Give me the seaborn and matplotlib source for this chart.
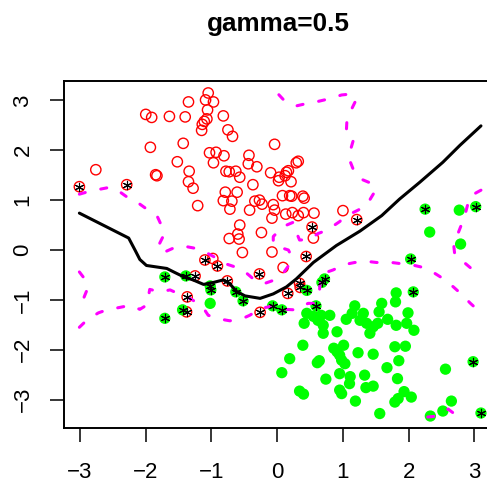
import matplotlib
matplotlib.use("Agg")
import matplotlib.pyplot as plt
import numpy as np
import pandas as pd
import seaborn as sns

# class 1 (red, open circles): ordinary observations
red_x = [-1.05, -1.09, -0.97, -1.35, -1.06, -2.00, -1.91, -1.64, -1.40, -0.82,
         -1.07, -1.11, -1.14, -1.15, -0.75, -0.68,
         -1.93, -1.43, -0.04, -2.76,
         -1.03, -0.93, -0.81, -0.97, -1.52, -0.43, -0.44, -0.31, 0.29, 0.32,
         -1.85, -1.83, -1.34, -0.78, -0.73, -0.63, -0.57, -0.10, 0.03, 0.02, 0.14, 0.17, 0.12, 0.21,
         -1.35, -1.28, -0.37, -0.79, -0.61,
         0.08, 0.19, 0.22, 0.39, 0.41,
         -0.82, -0.69, -0.34, -0.27, -0.23, -0.06, -1.21,
         -0.72, -0.42, -0.04, -0.08,
         0.13, 0.23, 0.32, 0.40, 0.56, 1.00,
         -0.57, -0.24, -0.73, -0.60, -0.58,
         -0.53, -0.08, 0.09, 0.55, -0.98]
red_y = [3.15, 3.01, 2.97, 2.97, 2.81, 2.72, 2.66, 2.68, 2.67, 2.69,
         2.63, 2.58, 2.52, 2.40, 2.41, 2.28,
         2.06, 2.14, 2.12, 1.61,
         1.95, 1.96, 1.89, 1.75, 1.77, 1.90, 1.73, 1.67, 1.75, 1.78,
         1.51, 1.49, 1.58, 1.58, 1.57, 1.58, 1.46, 1.55, 1.46, 1.39, 1.56, 1.59, 1.49, 1.37,
         1.37, 1.24, 1.31, 1.16, 1.16,
         1.09, 1.09, 1.08, 1.08, 1.04,
         0.99, 0.98, 0.98, 1.00, 0.92, 0.91, 0.89,
         0.82, 0.80, 0.80, 0.64,
         0.72, 0.75, 0.69, 0.75, 0.74, 0.79,
         0.50, 0.35, 0.23, 0.32, 0.22,
         -0.05, -0.04, -0.35, 0.24, -0.17]

# class 1 support vectors
red_sv_x = [-3.01, -2.29, -1.10, -0.91, -1.25, -0.76, -0.27, 0.53, 0.44, 1.21,
            -1.37, -1.38, -0.26, 0.16, 0.34, 0.35]
red_sv_y = [1.27, 1.31, -0.20, -0.32, -0.52, -0.62, -0.48, 0.46, -0.13, 0.61,
            -0.94, -1.24, -1.25, -0.87, -0.67, -0.75]

# class 2 (green, filled dots): ordinary observations
green_x = [-1.02, 2.77, 2.32, 2.79,
           1.81, 1.80, 1.59, 1.18, 1.99,
           0.45, 0.41, 0.55, 0.67, 0.80, 0.62, 0.70, 0.70, 0.91,
           1.05, 1.14, 1.31, 1.26, 1.36, 1.41, 1.46, 1.53, 1.55, 1.68, 1.81, 1.97, 2.08,
           0.39, 0.19, 0.07, 0.34, 0.40, 0.61, 0.64, 0.74,
           0.86, 0.91, 1.01, 0.95, 0.98, 1.03, 0.95, 1.11, 1.10, 0.95, 0.98,
           1.23, 1.46, 1.19, 1.35, 1.46, 1.33, 1.56, 1.67,
           1.79, 1.95, 1.85, 1.83, 1.79, 1.84, 1.93, 2.04,
           2.56, 2.65, 2.52, 2.33]
green_y = [-1.07, 0.80, 0.36, 0.12,
           -0.86, -1.04, -1.07, -1.12, -1.26,
           -1.27, -1.47, -1.33, -1.31, -1.31, -1.41, -1.51, -1.67, -1.64,
           -1.39, -1.27, -1.27, -1.41, -1.47, -1.67, -1.54, -1.47, -1.24, -1.39, -1.51, -1.47, -1.61,
           -1.91, -2.18, -2.46, -2.83, -2.89, -2.26, -2.22, -2.59,
           -1.97, -2.04, -1.91, -2.11, -2.21, -2.28, -2.48, -2.54, -2.68, -2.81, -2.88,
           -2.06, -2.09, -3.03, -2.76, -2.73, -2.51, -3.28, -2.36,
           -1.94, -1.93, -2.22, -2.58, -3.05, -2.98, -2.84, -2.95,
           -2.39, -3.03, -3.23, -3.33]

# class 2 support vectors
green_sv_x = [-1.71, -1.39, -1.02, -1.01, -0.63, -0.52, -1.44, -1.71, -0.07, 0.07,
              0.45, 0.59, 0.68, 0.72, 2.25, 3.02, 2.03, 2.07, 2.98, 3.10]
green_sv_y = [-0.54, -0.52, -0.72, -0.80, -0.84, -1.02, -1.20, -1.37, -1.12, -1.20,
              -0.81, -1.12, -0.65, -0.58, 0.82, 0.87, -0.18, -0.84, -2.24, -3.27]

# decision boundary (f = 0)
boundary_x = [-3.01, -2.26, -2.16, -2.09, -1.99, -1.68, -1.56, -1.42, -1.28, -1.12,
              -0.97, -0.82, -0.72, -0.62, -0.49, -0.26, -0.06, 0.14, 0.29, 0.55,
              0.90, 1.26, 1.59, 1.86, 2.17, 2.52, 2.78, 3.10]
boundary_y = [0.74, 0.24, -0.01, -0.19, -0.31, -0.37, -0.45, -0.54, -0.60, -0.69,
              -0.65, -0.60, -0.68, -0.83, -0.92, -0.97, -0.88, -0.74, -0.58, -0.25,
              0.09, 0.38, 0.69, 1.02, 1.36, 1.76, 2.10, 2.49]

# margin f = +1 (class 1 side)
upper_x = [-3.01, -2.85, -2.54, -2.42, -2.24, -2.09, -1.91, -1.82, -1.73, -1.73, -1.79,
           -1.81, -1.73, -1.56, -1.43, -1.23, -1.11, -0.97, -0.80, -0.57, -0.47,
           -0.31, -0.19, -0.04, 0.10, 0.18, 0.22, 0.17, 0.05, -0.06, -0.06, 0.09,
           0.25, 0.28, 0.34, 0.49, 0.62, 0.76, 0.95,
           1.03, 1.23, 1.36, 1.47, 1.48, 1.28, 1.18, 1.10, 1.10, 1.16, 1.05,
           1.06, 1.10, 1.20, 1.13, 0.98, 0.78, 0.62, 0.42, 0.29, 0.12, 0.00]
upper_y = [1.12, 1.18, 1.26, 1.19, 1.02, 0.92, 0.75, 0.66, 0.40, 0.29, 0.13,
           0.02, -0.05, 0.05, 0.08, 0.03, -0.03, -0.13, -0.27, -0.37, -0.46,
           -0.64, -0.67, -0.60, -0.45, -0.30, -0.13, 0.00, 0.05, 0.13, 0.27, 0.47,
           0.56, 0.39, 0.20, 0.21, 0.33, 0.40, 0.57,
           0.67, 0.80, 0.90, 1.14, 1.31, 1.42, 1.54, 1.81, 1.94, 2.21, 2.34,
           2.58, 2.74, 3.01, 3.13, 3.11, 3.03, 2.98, 2.93, 2.89, 2.98, 3.15]

# margin f = -1 (class 2 side)
lower_left_x = [-3.01, -2.90, -2.90, -2.94, -2.99, -3.01]
lower_left_y = [-0.44, -0.63, -0.82, -0.95, -1.14, -1.20]

lower_x = [-3.01, -2.90, -2.72, -2.59, -2.39, -2.24, -2.09, -1.98, -1.96, -1.94,
           -1.78, -1.63, -1.40, -1.33, -1.23, -1.12, -1.05, -0.85, -0.72, -0.52,
           -0.42, -0.24, -0.06, 0.12, 0.27, 0.47, 0.55, 0.64, 0.65, 0.70, 0.85,
           1.03, 1.18, 1.38, 1.51, 1.74, 1.86, 2.09, 2.22, 2.40, 2.52, 2.68,
           2.79, 2.94, 3.04, 3.10]
lower_y = [-1.55, -1.41, -1.26, -1.20, -1.15, -1.11, -1.19, -1.10, -0.94, -0.79,
           -0.84, -0.80, -0.94, -0.97, -1.05, -1.17, -1.31, -1.39, -1.42, -1.37,
           -1.31, -1.17, -1.12, -1.19, -1.20, -1.07, -1.07, -0.87, -0.70, -0.47, -0.40,
           -0.29, -0.25, -0.23, -0.25, -0.25, -0.27, -0.31, -0.35, -0.47, -0.57, -0.74,
           -0.87, -1.07, -1.19, -1.27]

right_x = [3.10, 3.03, 2.93, 2.87, 2.83, 2.75, 2.68, 2.70, 2.80, 2.97, 3.10]
right_y = [1.20, 1.15, 1.07, 0.77, 0.60, 0.33, 0.17, -0.08, -0.20, -0.39, -0.47]

bottom_x = [2.29, 2.43, 2.52, 2.60, 2.67, 2.76]
bottom_y = [-3.35, -3.33, -3.26, -3.19, -3.26, -3.35]

sns.set_theme(style="white")
plt.rcParams['font.family'] = ['Liberation Sans', 'DejaVu Sans']
plt.rcParams.update({
    'axes.edgecolor': 'black', 'axes.linewidth': 1.4, 'text.color': 'black',
    'xtick.color': 'black', 'ytick.color': 'black',
    'xtick.labelcolor': 'black', 'ytick.labelcolor': 'black',
})

W, H = 487, 484
fig = plt.figure(figsize=(W / 100, H / 100), dpi=100)
ax = fig.add_axes([64 / W, 1 - 428 / H, 433 / W, 347 / H])

sns.scatterplot(x=red_x + red_sv_x, y=red_y + red_sv_y, ax=ax, marker="o", s=55,
                facecolors="none", edgecolors="#ff0000", linewidths=1.0, zorder=2)
sns.scatterplot(x=green_x + green_sv_x, y=green_y + green_sv_y, ax=ax, marker="o", s=66,
                color="#00ff00", edgecolor="none", linewidth=0, zorder=2)

dash = (0, (2.0, 5.2))
for xs, ys in [(upper_x, upper_y), (lower_left_x, lower_left_y),
               (lower_x, lower_y), (right_x, right_y), (bottom_x, bottom_y)]:
    sns.lineplot(x=xs, y=ys, ax=ax, sort=False, estimator=None, color="#ff00ff",
                 linewidth=2.2, linestyle=dash, dash_capstyle="round", zorder=3)
sns.lineplot(x=boundary_x, y=boundary_y, ax=ax, sort=False, estimator=None,
             color="black", linewidth=2.2, solid_capstyle="round", zorder=3)

sns.scatterplot(x=red_sv_x + green_sv_x, y=red_sv_y + green_sv_y, ax=ax,
                marker=(6, 2, 0), s=36, color="black", linewidth=0.8, zorder=4)

ax.set_xlim(-3.244, 3.344)
ax.set_ylim(-3.57, 3.39)
ax.set_xticks([-3, -2, -1, 0, 1, 2, 3])
ax.set_yticks([-3, -2, -1, 0, 1, 2, 3])
ax.tick_params(axis="both", direction="out", length=10, width=1.1,
               labelsize=16, bottom=True, left=True)
ax.tick_params(axis="x", pad=14.5)
ax.tick_params(axis="y", pad=12)
for lab in ax.get_yticklabels():
    lab.set_rotation(90)
    lab.set_va("center")
ax.set_xlabel("")
ax.set_ylabel("")
ax.grid(False)

fig.text(0.572, 1 - 30.5 / H, "gamma=0.5", ha="center", va="baseline",
         fontsize=18.8, fontweight="bold", color="black")

fig.savefig("out.png", dpi=100)
